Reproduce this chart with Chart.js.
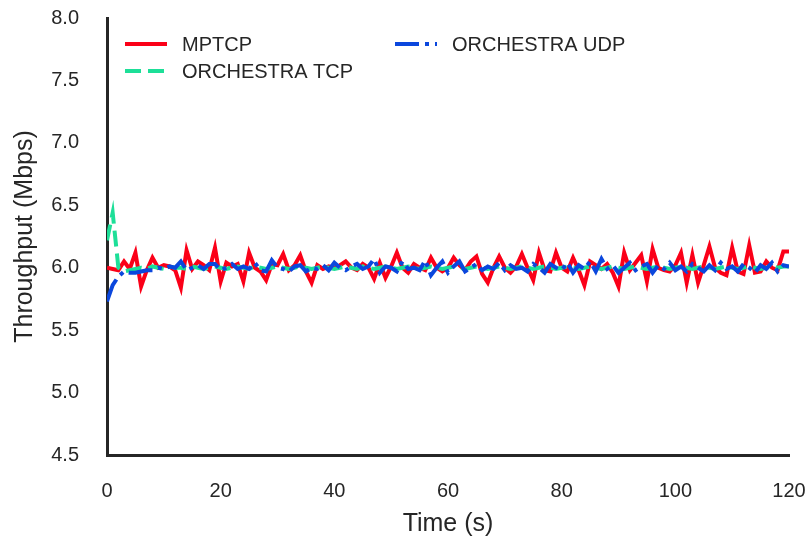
<!DOCTYPE html>
<html>
<head>
<meta charset="utf-8">
<script src="https://cdn.jsdelivr.net/npm/chart.js@4/dist/chart.umd.min.js"></script>
<style>
  html, body { margin: 0; padding: 0; background: #fff; }
  canvas { display: block; }
</style>
</head>
<body>
<canvas id="myChart" width="807" height="540"></canvas>
<script>
// time in seconds
var seconds = [];
for (var s = 0; s <= 120; s++) seconds.push(s);

var yTicks = [4.5, 5.0, 5.5, 6.0, 6.5, 7.0, 7.5, 8.0];
var xTicks = [0, 20, 40, 60, 80, 100, 120];

var mptcp = [
  6.00, 5.99, 5.98, 6.05, 5.99, 6.12, 5.85, 5.98, 6.08, 6.00,
  6.02, 6.01, 5.98, 5.84, 6.14, 5.99, 6.05, 6.02, 5.98, 6.16,
  5.89, 6.04, 6.01, 6.03, 5.89, 6.12, 6.00, 5.97, 5.90, 6.03,
  6.02, 6.11, 5.98, 6.02, 6.10, 5.97, 5.88, 6.02, 5.99, 6.01,
  6.00, 6.02, 6.05, 6.00, 5.98, 6.03, 6.00, 5.91, 6.04, 5.92,
  6.01, 6.12, 6.00, 5.96, 6.03, 6.00, 5.98, 6.08, 6.00, 5.97,
  6.00, 6.08, 6.02, 5.98, 6.05, 6.09, 5.95, 5.88, 6.00, 6.09,
  6.00, 5.96, 6.01, 6.11, 6.00, 5.90, 6.12, 5.98, 5.97, 6.12,
  6.00, 5.97, 6.08, 5.98, 5.86, 6.05, 6.02, 5.99, 6.03, 5.96,
  5.85, 6.12, 5.98, 6.04, 6.10, 5.89, 6.15, 6.00, 5.98, 5.97,
  6.02, 6.12, 5.88, 6.10, 5.88, 6.02, 6.17, 6.00, 5.96, 5.94,
  6.16, 5.97, 5.95, 6.18, 5.96, 5.97, 6.05, 6.00, 5.98, 6.13,
  6.13
];

var orchTcp = [
  6.22, 6.44, 6.00, 5.97, 5.98, 5.99, 6.00, 5.99, 6.01, 6.00,
  5.99, 6.01, 6.00, 6.00, 5.99, 6.01, 6.00, 5.99, 6.00, 6.01,
  6.00, 5.99, 6.00, 6.01, 6.00, 5.99, 6.01, 6.00, 5.99, 6.00,
  6.01, 6.00, 5.99, 6.00, 6.01, 6.00, 5.99, 6.00, 6.01, 6.00,
  5.99, 6.00, 6.01, 6.00, 5.99, 6.01, 6.00, 5.99, 6.00, 6.01,
  6.00, 5.99, 6.00, 6.01, 6.00, 5.99, 6.00, 6.01, 6.00, 5.99,
  6.00, 6.01, 6.00, 5.99, 6.00, 6.01, 6.00, 5.99, 6.00, 6.01,
  6.00, 5.99, 6.00, 6.01, 6.00, 5.99, 6.00, 6.01, 6.00, 5.99,
  6.00, 6.01, 6.00, 5.99, 6.00, 6.01, 6.00, 5.99, 6.00, 6.01,
  6.00, 5.99, 6.00, 6.01, 6.00, 5.99, 6.00, 6.01, 6.00, 5.99,
  6.00, 6.01, 6.00, 5.99, 6.00, 6.01, 6.00, 5.99, 6.00, 6.01,
  6.00, 5.99, 6.00, 6.01, 6.00, 5.99, 6.00, 6.01, 6.00, 6.01,
  6.01
];

var orchUdp = [
  5.73, 5.86, 5.93, 5.97, 5.96, 5.96, 5.97, 5.98, 5.98, 6.00,
  5.99, 6.01, 6.00, 6.05, 5.98, 6.00, 6.02, 5.99, 6.03, 6.03,
  5.98, 6.00, 6.03, 5.99, 6.01, 5.99, 6.04, 5.98, 5.97, 6.06,
  6.00, 5.99, 5.97, 6.01, 6.02, 5.97, 6.00, 5.99, 6.02, 5.98,
  6.04, 6.00, 5.98, 6.01, 6.03, 5.99, 6.01, 6.07, 5.96, 6.01,
  6.00, 5.97, 6.05, 5.99, 6.00, 5.98, 6.06, 5.94, 6.00, 6.05,
  5.96, 6.01, 6.05, 5.97, 6.00, 6.03, 5.98, 6.01, 5.99, 6.04,
  5.98, 6.02, 5.99, 6.00, 5.97, 6.03, 6.00, 5.96, 6.03, 6.00,
  5.98, 6.04, 5.96, 6.02, 5.99, 6.05, 5.97, 6.07, 5.99, 6.02,
  5.96, 6.00, 6.04, 5.98, 6.01, 6.03, 5.96, 6.02, 5.99, 6.04,
  5.98, 6.01, 5.97, 6.03, 6.00, 5.97, 6.02, 5.98, 6.04, 5.99,
  6.01, 5.97, 6.03, 6.00, 5.96, 6.02, 5.99, 6.04, 5.97, 6.02,
  6.01
];

var seriesNames = ['MPTCP', 'ORCHESTRA TCP', 'ORCHESTRA UDP'];
var seriesColors = ['#fb0018', '#1ddf98', '#0b47dd'];
var seriesDash = [[], [16, 7], [24, 6, 4, 6]];

function pts(vals) {
  var out = [];
  for (var i = 0; i < vals.length; i++) out.push({x: seconds[i], y: vals[i]});
  return out;
}

var FONT = '"Liberation Sans", Arial, Helvetica, sans-serif';
var INK = '#262626';

// two-column legend, drawn by hand like the original
var legendPlugin = {
  id: 'twoColLegend',
  afterDraw: function(chart) {
    var ctx = chart.ctx;
    var slots = [
      {lx: 125, ly: 44, tx: 182},
      {lx: 125, ly: 71, tx: 182},
      {lx: 395, ly: 44, tx: 452}
    ];
    ctx.save();
    ctx.font = '20px ' + FONT;
    ctx.textBaseline = 'middle';
    ctx.fillStyle = INK;
    for (var i = 0; i < 3; i++) {
      var sl = slots[i];
      ctx.beginPath();
      ctx.setLineDash(seriesDash[i]);
      ctx.lineWidth = 4;
      ctx.lineCap = 'butt';
      ctx.strokeStyle = seriesColors[i];
      ctx.moveTo(sl.lx, sl.ly);
      ctx.lineTo(sl.lx + 42, sl.ly);
      ctx.stroke();
      ctx.setLineDash([]);
      ctx.fillText(seriesNames[i], sl.tx, sl.ly + 1);
    }
    ctx.restore();
  }
};

var allSeries = [mptcp, orchTcp, orchUdp];
var datasets = [];
for (var k = 0; k < 3; k++) {
  datasets.push({
    label: seriesNames[k],
    data: pts(allSeries[k]),
    borderColor: seriesColors[k],
    backgroundColor: seriesColors[k],
    borderWidth: 4,
    borderDash: seriesDash[k],
    pointRadius: 0,
    tension: 0,
    fill: false,
    order: 3 - k
  });
}

var ctx = document.getElementById('myChart');
var lineGraph = new Chart(ctx, {
  type: 'line',
  data: {datasets: datasets},
  plugins: [legendPlugin],
  options: {
    responsive: false,
    animation: false,
    layout: {padding: {top: 18, right: 18, left: 0, bottom: 0}},
    plugins: {legend: {display: false}, tooltip: {enabled: false}},
    scales: {
      x: {
        type: 'linear',
        min: 0,
        max: 120,
        afterBuildTicks: function(scale) {
          scale.ticks = xTicks.map(function(v) { return {value: v}; });
        },
        afterFit: function(scale) {
          scale.height = 85;
          scale.paddingLeft = 0;
          scale.paddingRight = 0;
        },
        grid: {display: false, drawTicks: false},
        border: {display: true, color: INK, width: 3},
        ticks: {color: INK, font: {family: FONT, size: 20}, padding: 24, maxRotation: 0},
        title: {display: true, text: 'Time (s)', color: INK, font: {family: FONT, size: 25}, padding: {top: 0, bottom: 1}}
      },
      y: {
        min: 4.5,
        max: 8.0,
        afterBuildTicks: function(scale) {
          scale.ticks = yTicks.map(function(v) { return {value: v}; });
        },
        afterFit: function(scale) {
          scale.width = 107;
          scale.paddingTop = 0;
          scale.paddingBottom = 0;
        },
        grid: {display: false, drawTicks: false},
        border: {display: true, color: INK, width: 3},
        ticks: {
          color: INK,
          font: {family: FONT, size: 20},
          padding: 28,
          callback: function(v) { return Number(v).toFixed(1); }
        },
        title: {display: true, text: 'Throughput (Mbps)', color: INK, font: {family: FONT, size: 25}, padding: {top: 10, bottom: 0}}
      }
    }
  }
});
</script>
</body>
</html>
